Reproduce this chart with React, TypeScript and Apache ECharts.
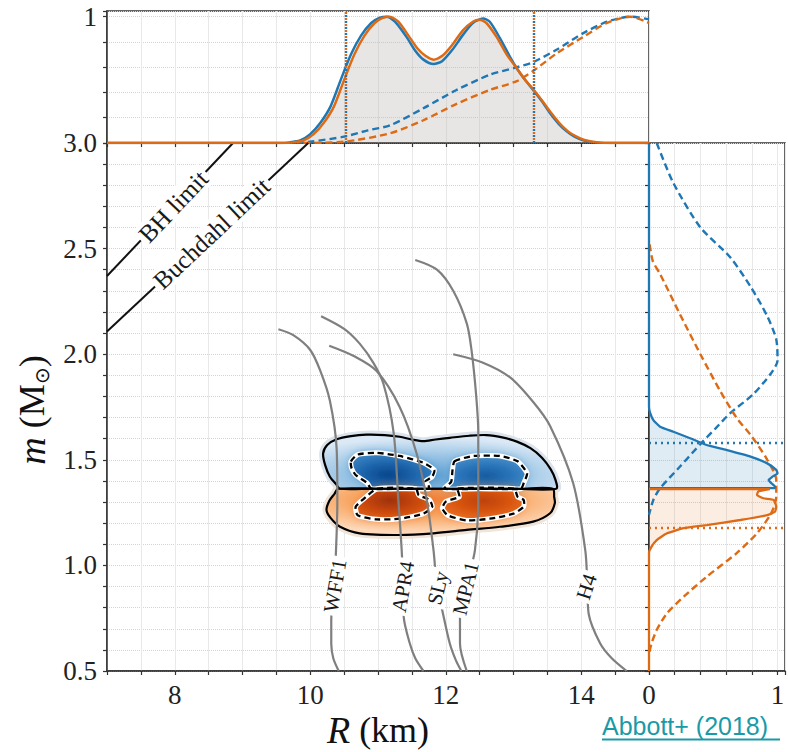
import React, { useEffect, useRef } from 'react';
import * as echarts from 'echarts';

// ---------------- data ----------------
const R_LABELS = [8, 10, 12, 14];
const R_CI = [10.52, 13.3];
const M1_UPPER = 1.581;
const M2_LOWER = 1.178;

// top panel: marginal radius posteriors (solid) and priors (dashed)
const TOP_SOLID_BLUE = [[7,0],[9.55,0],[9.7,0.005],[9.85,0.02],[10.0,0.07],[10.15,0.16],[10.3,0.29],[10.45,0.5],[10.6,0.7],[10.75,0.85],[10.9,0.95],[11.02,0.99],[11.13,1.0],[11.25,0.96],[11.42,0.84],[11.55,0.73],[11.67,0.66],[11.82,0.625],[11.95,0.65],[12.1,0.74],[12.26,0.86],[12.4,0.95],[12.55,0.985],[12.65,0.96],[12.8,0.83],[12.95,0.68],[13.05,0.59],[13.17,0.5],[13.29,0.42],[13.42,0.33],[13.54,0.235],[13.67,0.15],[13.79,0.09],[13.9,0.05],[14.03,0.022],[14.2,0.005],[14.4,0],[15,0]];
const TOP_SOLID_ORANGE = [[7,0],[9.6,0],[9.75,0.005],[9.9,0.02],[10.05,0.07],[10.2,0.16],[10.35,0.29],[10.5,0.5],[10.65,0.7],[10.8,0.85],[10.95,0.95],[11.07,0.99],[11.17,1.0],[11.3,0.96],[11.45,0.85],[11.58,0.75],[11.7,0.69],[11.82,0.66],[11.95,0.69],[12.1,0.78],[12.25,0.89],[12.4,0.96],[12.5,0.975],[12.6,0.95],[12.75,0.84],[12.9,0.7],[13.05,0.59],[13.17,0.5],[13.3,0.42],[13.43,0.33],[13.56,0.235],[13.69,0.15],[13.81,0.09],[13.93,0.05],[14.06,0.022],[14.25,0.005],[14.45,0],[15,0]];
const TOP_DASHED_BLUE = [[9.8,0],[10.0,0.01],[10.5,0.05],[10.85,0.1],[11.18,0.14],[11.67,0.275],[12.16,0.42],[12.65,0.54],[13.05,0.6],[13.29,0.64],[13.64,0.74],[14.03,0.87],[14.38,0.96],[14.72,1.0],[15,0.98]];
const TOP_DASHED_ORANGE = [[9.9,0],[10.5,0.01],[11.18,0.077],[11.67,0.18],[12.16,0.31],[12.65,0.42],[13.05,0.49],[13.29,0.57],[13.64,0.71],[14.03,0.84],[14.38,0.95],[14.72,1.0],[15,0.95]];

// right panel: marginal mass posteriors (value, m)
const RIGHT_SOLID_BLUE = [[0,3.0],[0,1.75],[0.01,1.72],[0.034,1.688],[0.086,1.657],[0.19,1.633],[0.32,1.602],[0.449,1.57],[0.6,1.547],[0.79,1.515],[0.92,1.483],[0.99,1.452],[1.0,1.436],[0.96,1.42],[0.93,1.404],[0.95,1.39],[0.98,1.373],[0.98,1.366],[0,1.366]];
const RIGHT_SOLID_ORANGE = [[0,1.361],[0.94,1.361],[0.85,1.35],[0.84,1.333],[0.89,1.318],[0.97,1.31],[0.99,1.278],[0.98,1.254],[0.92,1.238],[0.71,1.215],[0.45,1.191],[0.27,1.176],[0.14,1.152],[0.06,1.12],[0.02,1.089],[0,1.06],[0,0.5]];
const RIGHT_DASHED_BLUE = [[0.06,3.0],[0.19,2.81],[0.4,2.6],[0.63,2.46],[0.79,2.32],[0.92,2.18],[0.99,2.07],[1.0,1.97],[0.95,1.91],[0.81,1.81],[0.63,1.72],[0.52,1.65],[0.41,1.581],[0.24,1.467],[0.086,1.365],[0.034,1.31],[0,1.24]];
const RIGHT_DASHED_ORANGE = [[0.005,2.52],[0.03,2.44],[0.086,2.38],[0.24,2.19],[0.4,2.0],[0.55,1.83],[0.68,1.7],[0.8,1.61],[0.92,1.5],[0.99,1.404],[0.99,1.325],[0.95,1.246],[0.84,1.152],[0.68,1.057],[0.45,0.947],[0.27,0.852],[0.14,0.773],[0.06,0.694],[0.02,0.631],[0,0.58]];

// main panel: limits
const BH_LIMIT = [[7,2.37],[8.86,3.0]];
const BUCHDAHL_LIMIT = [[7,2.107],[9.97,3.0]];
const LIMIT_NAMES = ['BH limit', 'Buchdahl limit'];
const LIMIT_LABEL_POS = [[7.98,2.70],[8.545,2.572]];

// 2D posterior contours (R, m)
const M1_OUTER = [[10.19,1.53],[10.25,1.57],[10.39,1.597],[10.6,1.612],[10.83,1.619],[11.1,1.617],[11.32,1.609],[11.5,1.596],[11.67,1.588],[11.85,1.596],[12.06,1.604],[12.35,1.614],[12.6,1.617],[12.85,1.605],[13.05,1.586],[13.25,1.555],[13.42,1.51],[13.55,1.455],[13.62,1.405],[13.63,1.363],[13.0,1.363],[12.3,1.363],[11.6,1.363],[10.9,1.363],[10.44,1.363],[10.38,1.385],[10.29,1.42],[10.22,1.475]];
const M1_INNER_L = [[10.6,1.492],[10.7,1.525],[10.98,1.533],[11.32,1.518],[11.67,1.486],[11.83,1.452],[11.8,1.42],[11.7,1.398],[11.75,1.375],[11.75,1.363],[11.3,1.363],[10.9,1.363],[10.84,1.39],[10.67,1.428],[10.61,1.46]];
const M1_INNER_R = [[12.13,1.493],[12.41,1.518],[12.8,1.518],[13.06,1.493],[13.2,1.436],[13.15,1.389],[13.11,1.363],[12.5,1.363],[11.98,1.363],[12.08,1.396],[12.1,1.452]];
const M2_OUTER = [[10.41,1.363],[11.0,1.363],[11.7,1.363],[12.4,1.363],[13.1,1.363],[13.58,1.363],[13.6,1.325],[13.61,1.294],[13.54,1.247],[13.29,1.207],[12.8,1.183],[12.31,1.168],[11.82,1.152],[11.32,1.144],[10.73,1.152],[10.44,1.183],[10.3,1.225],[10.24,1.262],[10.28,1.305],[10.36,1.34]];
const M2_INNER_L = [[10.99,1.363],[11.56,1.363],[11.6,1.333],[11.76,1.31],[11.8,1.277],[11.67,1.245],[11.32,1.221],[10.98,1.218],[10.7,1.237],[10.67,1.277],[10.77,1.31]];
const M2_INNER_R = [[12.18,1.363],[13.01,1.363],[13.06,1.325],[13.15,1.31],[13.15,1.278],[13.0,1.245],[12.65,1.221],[12.31,1.213],[12.03,1.237],[11.95,1.27],[12.0,1.302],[12.2,1.325]];

// EOS mass-radius curves
const EOS_NAMES = ['WFF1', 'APR4', 'SLy', 'MPA1', 'H4'];
const EOS_WFF1 = [[9.53,2.118],[9.75,2.09],[10.0,2.02],[10.15,1.92],[10.29,1.78],[10.39,1.55],[10.4,1.3],[10.38,1.07],[10.35,0.9],[10.31,0.74],[10.31,0.63],[10.34,0.56],[10.42,0.5]];
const EOS_APR4 = [[10.16,2.18],[10.5,2.12],[10.73,2.05],[10.93,1.96],[11.08,1.86],[11.23,1.63],[11.3,1.31],[11.35,1.07],[11.37,0.9],[11.38,0.755],[11.47,0.63],[11.55,0.56],[11.67,0.5]];
const EOS_SLY = [[10.28,2.04],[10.65,1.99],[10.98,1.92],[11.32,1.75],[11.57,1.53],[11.72,1.31],[11.82,1.07],[11.87,0.9],[11.94,0.8],[12.06,0.63],[12.15,0.55],[12.23,0.5]];
const EOS_MPA1 = [[11.55,2.446],[11.87,2.4],[12.11,2.3],[12.31,2.146],[12.38,2.02],[12.45,1.8],[12.48,1.63],[12.48,1.31],[12.43,1.07],[12.3,0.9],[12.21,0.755],[12.21,0.63],[12.31,0.5]];
const EOS_H4 = [[12.11,2.0],[12.55,1.96],[12.95,1.89],[13.3,1.77],[13.54,1.66],[13.88,1.39],[14.06,1.07],[14.09,0.9],[14.11,0.77],[14.28,0.63],[14.45,0.56],[14.67,0.5]];
const EOS_CURVES = [EOS_WFF1, EOS_APR4, EOS_SLY, EOS_MPA1, EOS_H4];
const EOS_LABEL_POS = [[10.365,0.903],[11.37,0.899],[11.886,0.893],[12.296,0.891],[14.08,0.899]];

// ---------------- styles ----------------
const EOS_LABEL_ANGLE = [80, 80, 76, 76, 72];
const LIMIT_LABEL_ANGLE = [46.6, 43.2];
const BLUE = '#1f77b4';
const ORANGE = '#dd6a14';
const SERIF = 'Liberation Serif';
const AX = '#333';

function customGroup(xi: number, yi: number, anchor: number[][], build: (c: (d: number[]) => number[]) => any[], z: number) {
  return {
    type: 'custom', xAxisIndex: xi, yAxisIndex: yi, data: anchor, silent: true, z,
    renderItem: (params: any, api: any) =>
      params.dataIndex === 0 ? { type: 'group', children: build((d) => api.coord(d)) } : null,
  };
}

function labelSeries(pos: number[][], names: string[], angles: number[], size: number, z: number) {
  return {
    type: 'custom', xAxisIndex: 0, yAxisIndex: 0, data: pos, silent: true, z,
    renderItem: (params: any, api: any) => {
      const i = params.dataIndex;
      const p = api.coord([api.value(0), api.value(1)]);
      return {
        type: 'text', x: p[0], y: p[1], rotation: (angles[i] * Math.PI) / 180,
        style: {
          text: names[i], fontSize: size, fontFamily: SERIF, fill: '#1a1a1a', backgroundColor: '#fff', padding: [0, 3],
          align: 'center', verticalAlign: 'middle', textAlign: 'center', textVerticalAlign: 'middle',
        },
      };
    },
  };
}

function xAxis(grid: number, min: number, max: number, interval: number, minorSplit: number, fmt: any) {
  return {
    type: 'value', gridIndex: grid, min, max, interval,
    axisLine: { show: true, onZero: false, lineStyle: { color: AX, width: 1.5 } },
    axisTick: { show: true, length: 4, lineStyle: { color: AX, width: 1.2 } },
    minorTick: { show: minorSplit > 0, splitNumber: minorSplit || 2, length: 4, lineStyle: { color: AX, width: 1.2 } },
    axisLabel: { show: !!fmt, formatter: fmt, margin: 10, color: '#222', fontSize: 27, fontFamily: SERIF },
    splitLine: { show: true, lineStyle: { color: '#e9e9e9', width: 1 } },
    minorSplitLine: { show: minorSplit > 0, lineStyle: { color: '#e9e9e9', width: 1 } },
  };
}
function yAxis(grid: number, min: number, max: number, interval: number, minorSplit: number, fmt: any) {
  return {
    type: 'value', gridIndex: grid, min, max, interval,
    axisLine: { show: true, onZero: false, lineStyle: { color: AX, width: 1.5 } },
    axisTick: { show: true, length: 4, lineStyle: { color: AX, width: 1.2 } },
    minorTick: { show: minorSplit > 0, splitNumber: minorSplit || 2, length: 4, lineStyle: { color: AX, width: 1.2 } },
    axisLabel: { show: !!fmt, formatter: fmt, margin: 10, color: '#222', fontSize: 27, fontFamily: SERIF },
    splitLine: { show: true, lineStyle: { color: '#d4d4d4', width: 1, type: 'dotted' } },
    minorSplitLine: { show: minorSplit > 0, lineStyle: { color: '#d4d4d4', width: 1, type: 'dotted' } },
  };
}

function line(xi: number, yi: number, data: number[][], color: string, width: number, dashed: boolean, z: number, extra: any = {}) {
  return {
    type: 'line', xAxisIndex: xi, yAxisIndex: yi, data, showSymbol: false, symbol: 'none', silent: true,
    smooth: 0.25, z,
    lineStyle: { color, width, type: dashed ? [7, 4] : 'solid' },
    ...extra,
  };
}

const near = (a: number, b: number) => Math.abs(a - b) < 1e-6;

export default function App() {
  const ref = useRef<HTMLDivElement>(null);
  useEffect(() => {
    if (!ref.current) return;
    const chart = echarts.init(ref.current, null, { renderer: 'svg' });

    const RG = (cx: number, cy: number, r: number, stops: string[]) =>
      new echarts.graphic.RadialGradient(cx, cy, r, stops.map((c, i) => ({ offset: i / (stops.length - 1), color: c })));

    const contours = customGroup(0, 0, M1_OUTER, (c) => {
      const P = (a: number[][]) => a.map(c);
      const poly = (a: number[][], style: any, sm = 0.3) => ({ type: 'polygon', shape: { points: P(a), smooth: sm }, style });
      const inner = [M1_INNER_L, M1_INNER_R, M2_INNER_L, M2_INNER_R];
      return [
        poly(M1_OUTER, { fill: 'none', stroke: '#dbe3ec', lineWidth: 8 }),
        poly(M2_OUTER, { fill: 'none', stroke: '#f1e4d8', lineWidth: 8 }),
        poly(M1_OUTER, { fill: RG(0.45, 0.75, 0.7, ['#5d9fd2', '#98c3e4', '#dbe9f6']) }),
        poly(M2_OUTER, { fill: RG(0.45, 0.25, 0.7, ['#f0803a', '#f8a866', '#fdd9ba']) }),
        poly(M1_INNER_L, { fill: RG(0.45, 0.6, 0.6, ['#08468c', '#1c63aa', '#3a84c3']), shadowBlur: 10, shadowColor: 'rgba(50,130,195,0.9)' }, 0.2),
        poly(M1_INNER_R, { fill: RG(0.5, 0.6, 0.6, ['#175ca0', '#2973b9', '#4890c9']), shadowBlur: 10, shadowColor: 'rgba(60,140,200,0.9)' }, 0.2),
        poly(M2_INNER_L, { fill: RG(0.45, 0.4, 0.6, ['#9e3207', '#c4440a', '#e05f18']), shadowBlur: 10, shadowColor: 'rgba(235,110,35,0.9)' }, 0.2),
        poly(M2_INNER_R, { fill: RG(0.5, 0.4, 0.6, ['#bd420a', '#d6530e', '#ea6e22']), shadowBlur: 10, shadowColor: 'rgba(240,120,40,0.9)' }, 0.2),
        ...inner.map((a) => poly(a, { fill: 'none', stroke: '#fff', lineWidth: 5 }, 0.2)),
        ...inner.map((a) => poly(a, { fill: 'none', stroke: '#000', lineWidth: 2.3, lineDash: [6, 4] }, 0.2)),
        poly(M1_OUTER, { fill: 'none', stroke: '#000', lineWidth: 2.2 }),
        poly(M2_OUTER, { fill: 'none', stroke: '#000', lineWidth: 2.2 }),
      ];
    }, 3);

    const rightFills = customGroup(2, 2, RIGHT_SOLID_BLUE, (c) => [
      { type: 'polygon', shape: { points: RIGHT_SOLID_BLUE.slice(1).map(c) }, style: { fill: 'rgba(31,119,180,0.14)' } },
      { type: 'polygon', shape: { points: RIGHT_SOLID_ORANGE.slice(0, -1).map(c) }, style: { fill: 'rgba(221,106,20,0.12)' } },
    ], 1);

    const dotted = (color: string, off: number) => ({ color, width: 2.4, type: [2, 4], dashOffset: off });

    const option: any = {
      animation: false,
      grid: [
        { left: 107, top: 143, width: 542, height: 528, show: true, borderColor: AX, borderWidth: 1.5 },
        { left: 107, top: 11, width: 542, height: 132, show: true, borderColor: AX, borderWidth: 1.5 },
        { left: 649, top: 143, width: 136, height: 528, show: true, borderColor: AX, borderWidth: 1.5 },
      ],
      xAxis: [
        xAxis(0, 7, 15, 1, 2, (v: number) => (R_LABELS.includes(v) ? String(v) : '')),
        xAxis(1, 7, 15, 1, 2, null),
        xAxis(2, 0, 1.058, 0.2, 0, (v: number) => (near(v, 0) ? '0' : near(v, 1) ? '1' : '')),
      ],
      yAxis: [
        yAxis(0, 0.5, 3.0, 0.5, 5, (v: number) => v.toFixed(1)),
        yAxis(1, 0, 1.045, 0.2, 0, (v: number) => (near(v, 1) ? '1' : '')),
        yAxis(2, 0.5, 3.0, 0.5, 5, null),
      ],
      series: [
        // top panel
        line(1, 1, TOP_SOLID_ORANGE, 'rgba(0,0,0,0)', 0, false, 1, { areaStyle: { color: 'rgba(190,184,178,0.5)' } }),
        line(1, 1, TOP_DASHED_BLUE, BLUE, 2.4, true, 2),
        line(1, 1, TOP_DASHED_ORANGE, ORANGE, 2.4, true, 2),
        line(1, 1, TOP_SOLID_BLUE, BLUE, 2.5, false, 3, {
          markLine: { silent: true, symbol: ['none', 'none'], label: { show: false }, lineStyle: dotted(BLUE, 0), data: R_CI.map((v) => ({ xAxis: v })) },
        }),
        line(1, 1, TOP_SOLID_ORANGE, ORANGE, 2.5, false, 3, {
          markLine: { silent: true, symbol: ['none', 'none'], label: { show: false }, lineStyle: dotted(ORANGE, 3), data: R_CI.map((v) => ({ xAxis: v })) },
        }),
        // right panel
        rightFills,
        line(2, 2, RIGHT_DASHED_BLUE, BLUE, 2.4, true, 2),
        line(2, 2, RIGHT_DASHED_ORANGE, ORANGE, 2.4, true, 2),
        line(2, 2, RIGHT_SOLID_BLUE, BLUE, 2.3, false, 3, {
          smooth: 0.15,
          markLine: { silent: true, symbol: ['none', 'none'], label: { show: false }, lineStyle: dotted(BLUE, 0), data: [{ yAxis: M1_UPPER }] },
        }),
        line(2, 2, RIGHT_SOLID_ORANGE, ORANGE, 2.3, false, 3, {
          smooth: 0.15,
          markLine: { silent: true, symbol: ['none', 'none'], label: { show: false }, lineStyle: dotted(ORANGE, 0), data: [{ yAxis: M2_LOWER }] },
        }),
        // main panel
        line(0, 0, BH_LIMIT, '#111', 2, false, 2, { smooth: false }),
        line(0, 0, BUCHDAHL_LIMIT, '#111', 2, false, 2, { smooth: false }),
        labelSeries(LIMIT_LABEL_POS, LIMIT_NAMES, LIMIT_LABEL_ANGLE, 25, 4),
        contours,
        ...EOS_CURVES.map((d) => line(0, 0, d, '#7f7f7f', 2.2, false, 5, { smooth: 0.3 })),
        labelSeries(EOS_LABEL_POS, EOS_NAMES, EOS_LABEL_ANGLE, 21, 6),
      ],
      graphic: [
        {
          type: 'text', x: 32, y: 410, rotation: Math.PI / 2, z: 10,
          style: {
            text: '{i|m} (M{s|⊙})', fontSize: 36, fontFamily: SERIF, fill: '#111', align: 'center', verticalAlign: 'middle',
            rich: {
              i: { fontStyle: 'italic', fontSize: 38, fontFamily: SERIF, lineHeight: 40, verticalAlign: 'middle' },
              s: { fontSize: 20, fontFamily: SERIF, lineHeight: 18, verticalAlign: 'bottom' },
            },
          },
        },
        {
          type: 'text', x: 378, y: 730, z: 10,
          style: {
            text: '{i|R} (km)', fontSize: 36, fontFamily: SERIF, fill: '#111', align: 'center', verticalAlign: 'middle',
            rich: { i: { fontStyle: 'italic', fontSize: 38, fontFamily: SERIF } },
          },
        },
        {
          type: 'text', x: 602, y: 726, z: 10,
          style: { text: 'Abbott+ (2018)', fontSize: 25, fontFamily: 'Liberation Sans', fill: '#1a9aa6', align: 'left', verticalAlign: 'middle' },
        },
        { type: 'line', z: 10, shape: { x1: 602, y1: 739.5, x2: 780, y2: 739.5 }, style: { stroke: '#1a9aa6', lineWidth: 1.8 } },
      ],
    };
    chart.setOption(option);
    return () => chart.dispose();
  }, []);
  return <div ref={ref} style={{ position: 'fixed', left: 0, top: 0, width: 788, height: 752, background: '#fff' }} />;
}
